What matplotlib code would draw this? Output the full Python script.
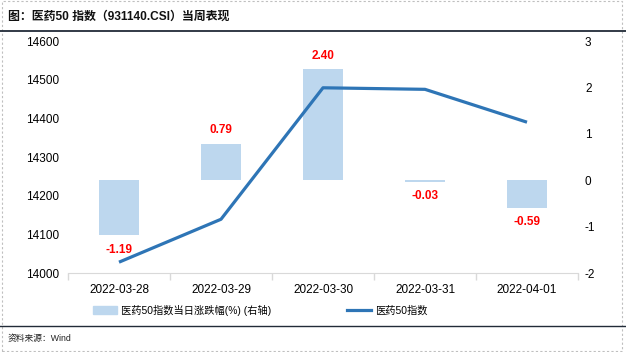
import matplotlib
matplotlib.use('Agg')
import matplotlib.pyplot as plt
from matplotlib.patches import Rectangle
from matplotlib.lines import Line2D
import numpy as np

plt.rcParams['font.family'] = ['Liberation Sans', 'Noto Sans CJK SC', 'DejaVu Sans']
plt.rcParams['axes.unicode_minus'] = False

# 数据
dates = ['2022-03-28', '2022-03-29', '2022-03-30', '2022-03-31', '2022-04-01']
index_close = [14028, 14139, 14479, 14475, 14390]
pct_change = [-1.19, 0.79, 2.40, -0.03, -0.59]

bar_color = '#BDD7EE'
line_color = '#2E75B6'

fig = plt.figure(figsize=(6.26, 3.52), dpi=100)
ax = fig.add_axes([68/626, 1-273/352, 510/626, 232/352])
ax2 = ax.twinx()
ax.set_zorder(ax2.get_zorder() + 1)
ax.patch.set_visible(False)

x = np.arange(len(dates))

# 柱：当日涨跌幅（右轴）
ax2.bar(x, pct_change, width=0.4, color=bar_color, zorder=1)
for xi, v in zip(x, pct_change):
    off = 9.5 if v >= 0 else -10.5
    ax2.annotate(f'{v:.2f}', (xi, v), xytext=(0, off), textcoords='offset points',
                 ha='center', va='center', color='#FF0000', fontsize=8.5, fontweight='bold')

# 线：医药50指数（左轴）
ax.plot(x, index_close, color=line_color, lw=2.3, solid_capstyle='butt', zorder=3)

ax.set_xlim(-0.5, len(dates) - 0.5)
ax.set_ylim(14000, 14600)
ax.set_yticks(range(14000, 14601, 100))
ax2.set_ylim(-2, 3)
ax2.set_yticks(range(-2, 4))

ax.set_xticks(x)
ax.set_xticklabels(dates, fontsize=8.5)
ax.set_xticks(np.arange(-0.5, len(dates)), minor=True)
ax.tick_params(axis='x', which='major', length=0, pad=8)
ax.tick_params(axis='x', which='minor', length=5, color='#D9D9D9', width=1)
ax.tick_params(axis='y', length=0, labelsize=8.5, pad=6.5)
ax2.tick_params(axis='y', length=0, labelsize=8.5, pad=5)

for a in (ax, ax2):
    for s in ('top', 'left', 'right'):
        a.spines[s].set_visible(False)
ax.spines['bottom'].set_color('#D9D9D9')
ax2.spines['bottom'].set_visible(False)

# 图例
handles = [Rectangle((0, 0), 1, 1, color=bar_color),
           Line2D([0], [0], color=line_color, lw=2.3)]
labels = ['医药50指数当日涨跌幅(%) (右轴)', '医药50指数']
fig.legend(handles, labels, loc='center left', bbox_to_anchor=(84/626, 1-310/352),
           ncol=2, frameon=False, fontsize=7.35, handlelength=2.35, handleheight=0.8,
           handletextpad=0.4, columnspacing=7.4)

# 标题与来源
fig.text(8/626, 1-17/352, '图：医药50 指数（931140.CSI）当周表现', fontsize=8.6,
         fontweight='bold', ha='left', va='center', color='#111111')
fig.add_artist(Line2D([0, 1], [1-31/352, 1-31/352], color='#222B38', lw=1.3))
fig.add_artist(Line2D([0, 1], [1-326/352, 1-326/352], color='#222B38', lw=1.0))
fig.text(8/626, 1-338/352, '资料来源：Wind', fontsize=6.3, ha='left', va='center', color='#222222')

# 虚线边框
fig.add_artist(Rectangle((2/626, 1/352), 620/626, 350/352, fill=False, ls=(0, (2, 2)),
                         ec='#BFBFBF', lw=0.8))

fig.savefig('out.png', dpi=100)
